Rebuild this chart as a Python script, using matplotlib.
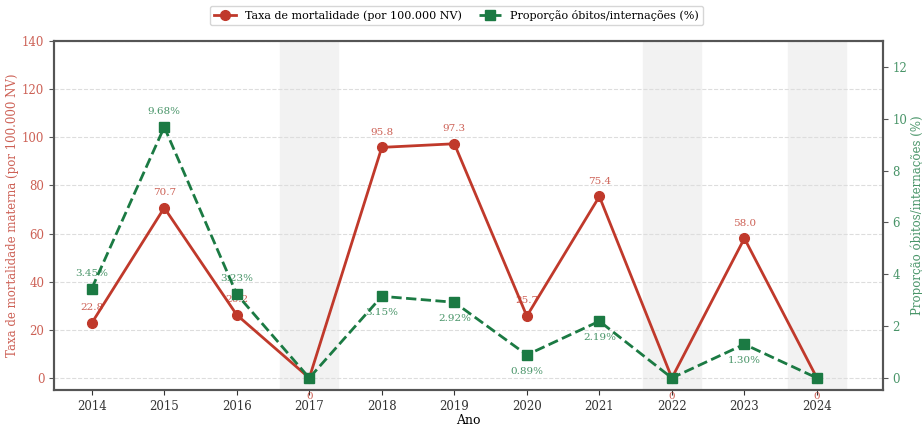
import matplotlib
matplotlib.use("Agg")
import matplotlib.pyplot as plt

anos = [2014, 2015, 2016, 2017, 2018, 2019, 2020, 2021, 2022, 2023, 2024]
taxa = [22.8, 70.7, 26.2, 0, 95.8, 97.3, 25.7, 75.4, 0, 58.0, 0]
proporcao = [3.45, 9.68, 3.23, 0, 3.15, 2.92, 0.89, 2.19, 0, 1.30, 0]

RED = "#c0392b"
GREEN = "#1b7a43"

plt.rcParams["font.family"] = ["DejaVu Serif"]

fig = plt.figure(figsize=(9.22, 4.26), dpi=100)
ax = fig.add_axes([0.0586, 0.0845, 0.899, 0.8193])
ax2 = ax.twinx()

# anos sem óbitos sombreados
for ano, t in zip(anos, taxa):
    if t == 0:
        ax.axvspan(ano - 0.4, ano + 0.4, color="#f2f2f2", zorder=0)

l1, = ax.plot(anos, taxa, color=RED, lw=2, marker="o", ms=7,
              label="Taxa de mortalidade (por 100.000 NV)", zorder=3)
l2, = ax2.plot(anos, proporcao, color=GREEN, lw=2, ls="--", marker="s", ms=7,
               label="Proporção óbitos/internações (%)", zorder=3)

for ano, t in zip(anos, taxa):
    if t == 0:
        ax.annotate("0", (ano, t), xytext=(0, -13), textcoords="offset points",
                    ha="center", va="center", fontsize=7.5, color=RED, alpha=0.8)
    else:
        ax.annotate(f"{t:.1f}", (ano, t), xytext=(0, 11), textcoords="offset points",
                    ha="center", va="center", fontsize=7.5, color=RED, alpha=0.8)

for i, (ano, p) in enumerate(zip(anos, proporcao)):
    if p == 0:
        continue
    dy = 11 if i < 3 else -12
    ax2.annotate(f"{p:.2f}%", (ano, p), xytext=(0, dy), textcoords="offset points",
                 ha="center", va="center", fontsize=7.5, color=GREEN, alpha=0.8)

ax.set_xlim(2013.48, 2024.91)
ax.set_ylim(-5, 140)
ax2.set_ylim(-5 / (140 / 13), 13)
ax.set_xticks(anos)
ax.set_yticks(range(0, 141, 20))
ax2.set_yticks(range(0, 13, 2))

ax.grid(axis="y", ls="--", color="#dddddd", lw=0.8)
ax.set_axisbelow(True)

ax.tick_params(axis="x", labelsize=8.5, colors="#333333")
ax.tick_params(axis="y", labelsize=8.5, labelcolor=RED, colors="#555555")
ax2.tick_params(axis="y", labelsize=8.5, labelcolor=GREEN, colors="#555555")
for lab in ax.get_yticklabels():
    lab.set_alpha(0.8)
for lab in ax2.get_yticklabels():
    lab.set_alpha(0.8)

ax.set_xlabel("Ano", fontsize=9, labelpad=1)
ax.set_ylabel("Taxa de mortalidade materna (por 100.000 NV)", fontsize=8.5,
              color=RED, alpha=0.8, labelpad=2)
ax2.set_ylabel("Proporção óbitos/internações (%)", fontsize=8.5,
               color=GREEN, alpha=0.8, labelpad=2)

for a in (ax, ax2):
    for s in a.spines.values():
        s.set_color("#555555")
        s.set_linewidth(1.5)

fig.legend(handles=[l1, l2], loc="upper center", bbox_to_anchor=(0.495, 1.0),
           ncol=2, fontsize=8, frameon=True, columnspacing=1.5)

fig.savefig("out.png", dpi=100)
